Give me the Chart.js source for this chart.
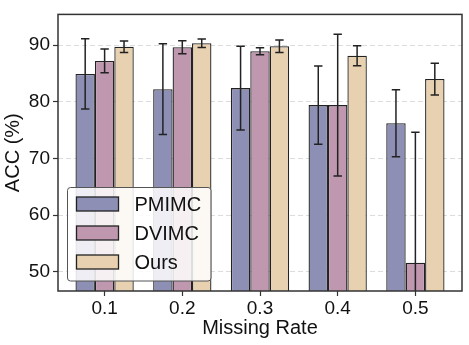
<!DOCTYPE html>
<html>
<head>
<meta charset="utf-8">
<script src="https://cdn.jsdelivr.net/npm/chart.js@4"></script>
<style>
  html, body { margin: 0; padding: 0; background: #fff; }
  #wrap { width: 469px; height: 345px; }
</style>
</head>
<body>
<div id="wrap"><canvas id="c" width="469" height="345"></canvas></div>
<script>
const categories = ['0.1', '0.2', '0.3', '0.4', '0.5'];
const seriesNames = ['PMIMC', 'DVIMC', 'Ours'];
const pmimc = [84.9, 82.2, 82.4, 79.4, 76.2];
const pmimcErr = [6.2, 8.0, 7.4, 6.9, 5.9];
const dvimc = [87.2, 89.6, 88.9, 79.4, 51.6];
const dvimcErr = [2.1, 1.15, 0.6, 12.5, 23.0];
const ours = [89.7, 90.3, 89.8, 88.1, 84.0];
const oursErr = [1.0, 0.75, 1.1, 1.75, 2.8];
const yTicks = [50, 60, 70, 80, 90];
const colors = ['#8D90B4', '#BF97AE', '#E8D1B0'];

const values = [pmimc, dvimc, ours];
const errors = [pmimcErr, dvimcErr, oursErr];

const FONT = "'Liberation Sans', Arial, Helvetica, sans-serif";

const errorBarPlugin = {
  id: 'errorBars',
  afterDatasetsDraw(chart) {
    const ctx = chart.ctx;
    const ys = chart.scales.y;
    const a = chart.chartArea;
    ctx.save();
    ctx.beginPath();
    ctx.rect(a.left, a.top, a.right - a.left, a.bottom - a.top);
    ctx.clip();
    ctx.strokeStyle = '#222';
    ctx.lineWidth = 1.5;
    chart.data.datasets.forEach((ds, d) => {
      const meta = chart.getDatasetMeta(d);
      meta.data.forEach((bar, i) => {
        const v = values[d][i], e = errors[d][i];
        const yt = ys.getPixelForValue(v + e);
        const yb = ys.getPixelForValue(v - e);
        const x = bar.x;
        ctx.beginPath();
        ctx.moveTo(x, yt); ctx.lineTo(x, yb);
        ctx.moveTo(x - 4.2, yt); ctx.lineTo(x + 4.2, yt);
        ctx.moveTo(x - 4.2, yb); ctx.lineTo(x + 4.2, yb);
        ctx.stroke();
      });
    });
    ctx.restore();

    // legend
    const lx = a.left + 9.5, lw = 143.5, lh = 93.5;
    const ly = a.bottom - 10 - lh;
    ctx.save();
    ctx.beginPath();
    ctx.roundRect(lx, ly, lw, lh, 3);
    ctx.fillStyle = 'rgba(255,255,255,0.85)';
    ctx.fill();
    ctx.strokeStyle = '#555';
    ctx.lineWidth = 1;
    ctx.stroke();
    ctx.font = '20px ' + FONT;
    ctx.textBaseline = 'middle';
    ctx.textAlign = 'left';
    chart.data.datasets.forEach((ds, d) => {
      const cy = ly + 16.5 + d * 29;
      ctx.fillStyle = ds.backgroundColor;
      ctx.fillRect(lx + 9, cy - 7, 42, 14);
      ctx.strokeStyle = '#222';
      ctx.lineWidth = 1.3;
      ctx.strokeRect(lx + 9, cy - 7, 42, 14);
      ctx.fillStyle = '#111';
      ctx.fillText(ds.label, lx + 67, cy + 1);
    });
    ctx.restore();
  },
  afterDraw(chart) {
    const ctx = chart.ctx, a = chart.chartArea;
    ctx.save();
    ctx.strokeStyle = '#333';
    ctx.lineWidth = 1.5;
    ctx.strokeRect(a.left, a.top, a.right - a.left, a.bottom - a.top);
    ctx.restore();
  }
};

new Chart(document.getElementById('c'), {
  type: 'bar',
  data: {
    datasets: seriesNames.map((name, d) => ({
      label: name,
      data: values[d].map((v, i) => ({ x: i, y: v })),
      backgroundColor: colors[d],
      borderColor: '#222',
      borderWidth: 1.3,
      categoryPercentage: 0.75,
      barPercentage: 1.0
    }))
  },
  options: {
    responsive: false,
    animation: false,
    devicePixelRatio: 1,
    layout: { padding: { left: 0, top: 6, right: 7, bottom: 0 } },
    plugins: { legend: { display: false }, tooltip: { enabled: false } },
    scales: {
      x: {
        type: 'linear',
        offset: false,
        min: -0.6,
        max: 4.6,
        afterBuildTicks(scale) { scale.ticks = categories.map((_, i) => ({ value: i })); },
        afterFit(scale) { scale.height = 54; },
        ticks: {
          callback: (v) => categories[v] ?? '',
          color: '#111',
          font: { family: FONT, size: 19 },
          padding: 1,
          maxRotation: 0,
          autoSkip: false
        },
        grid: { display: true, offset: false, drawOnChartArea: false, drawTicks: true, tickLength: 5, tickColor: '#333', tickWidth: 1.2 },
        border: { display: false },
        title: { display: true, text: 'Missing Rate', color: '#111', font: { family: FONT, size: 20 }, padding: { top: 0, bottom: 5 } }
      },
      y: {
        min: 46.6,
        max: 95.4,
        afterBuildTicks(scale) { scale.ticks = yTicks.map(v => ({ value: v })); },
        afterFit(scale) { scale.width = 58; },
        ticks: {
          color: '#111',
          font: { family: FONT, size: 19 },
          padding: 3
        },
        grid: { color: '#dcdcdc', lineWidth: 1, tickLength: 5, tickColor: '#333', tickWidth: 1.2, tickBorderDash: [] },
        border: { display: false, dash: [5, 3] },
        title: { display: true, text: 'ACC (%)', color: '#111', font: { family: FONT, size: 20 }, padding: { top: 1, bottom: 0 } }
      }
    }
  },
  plugins: [errorBarPlugin]
});
</script>
</body>
</html>
